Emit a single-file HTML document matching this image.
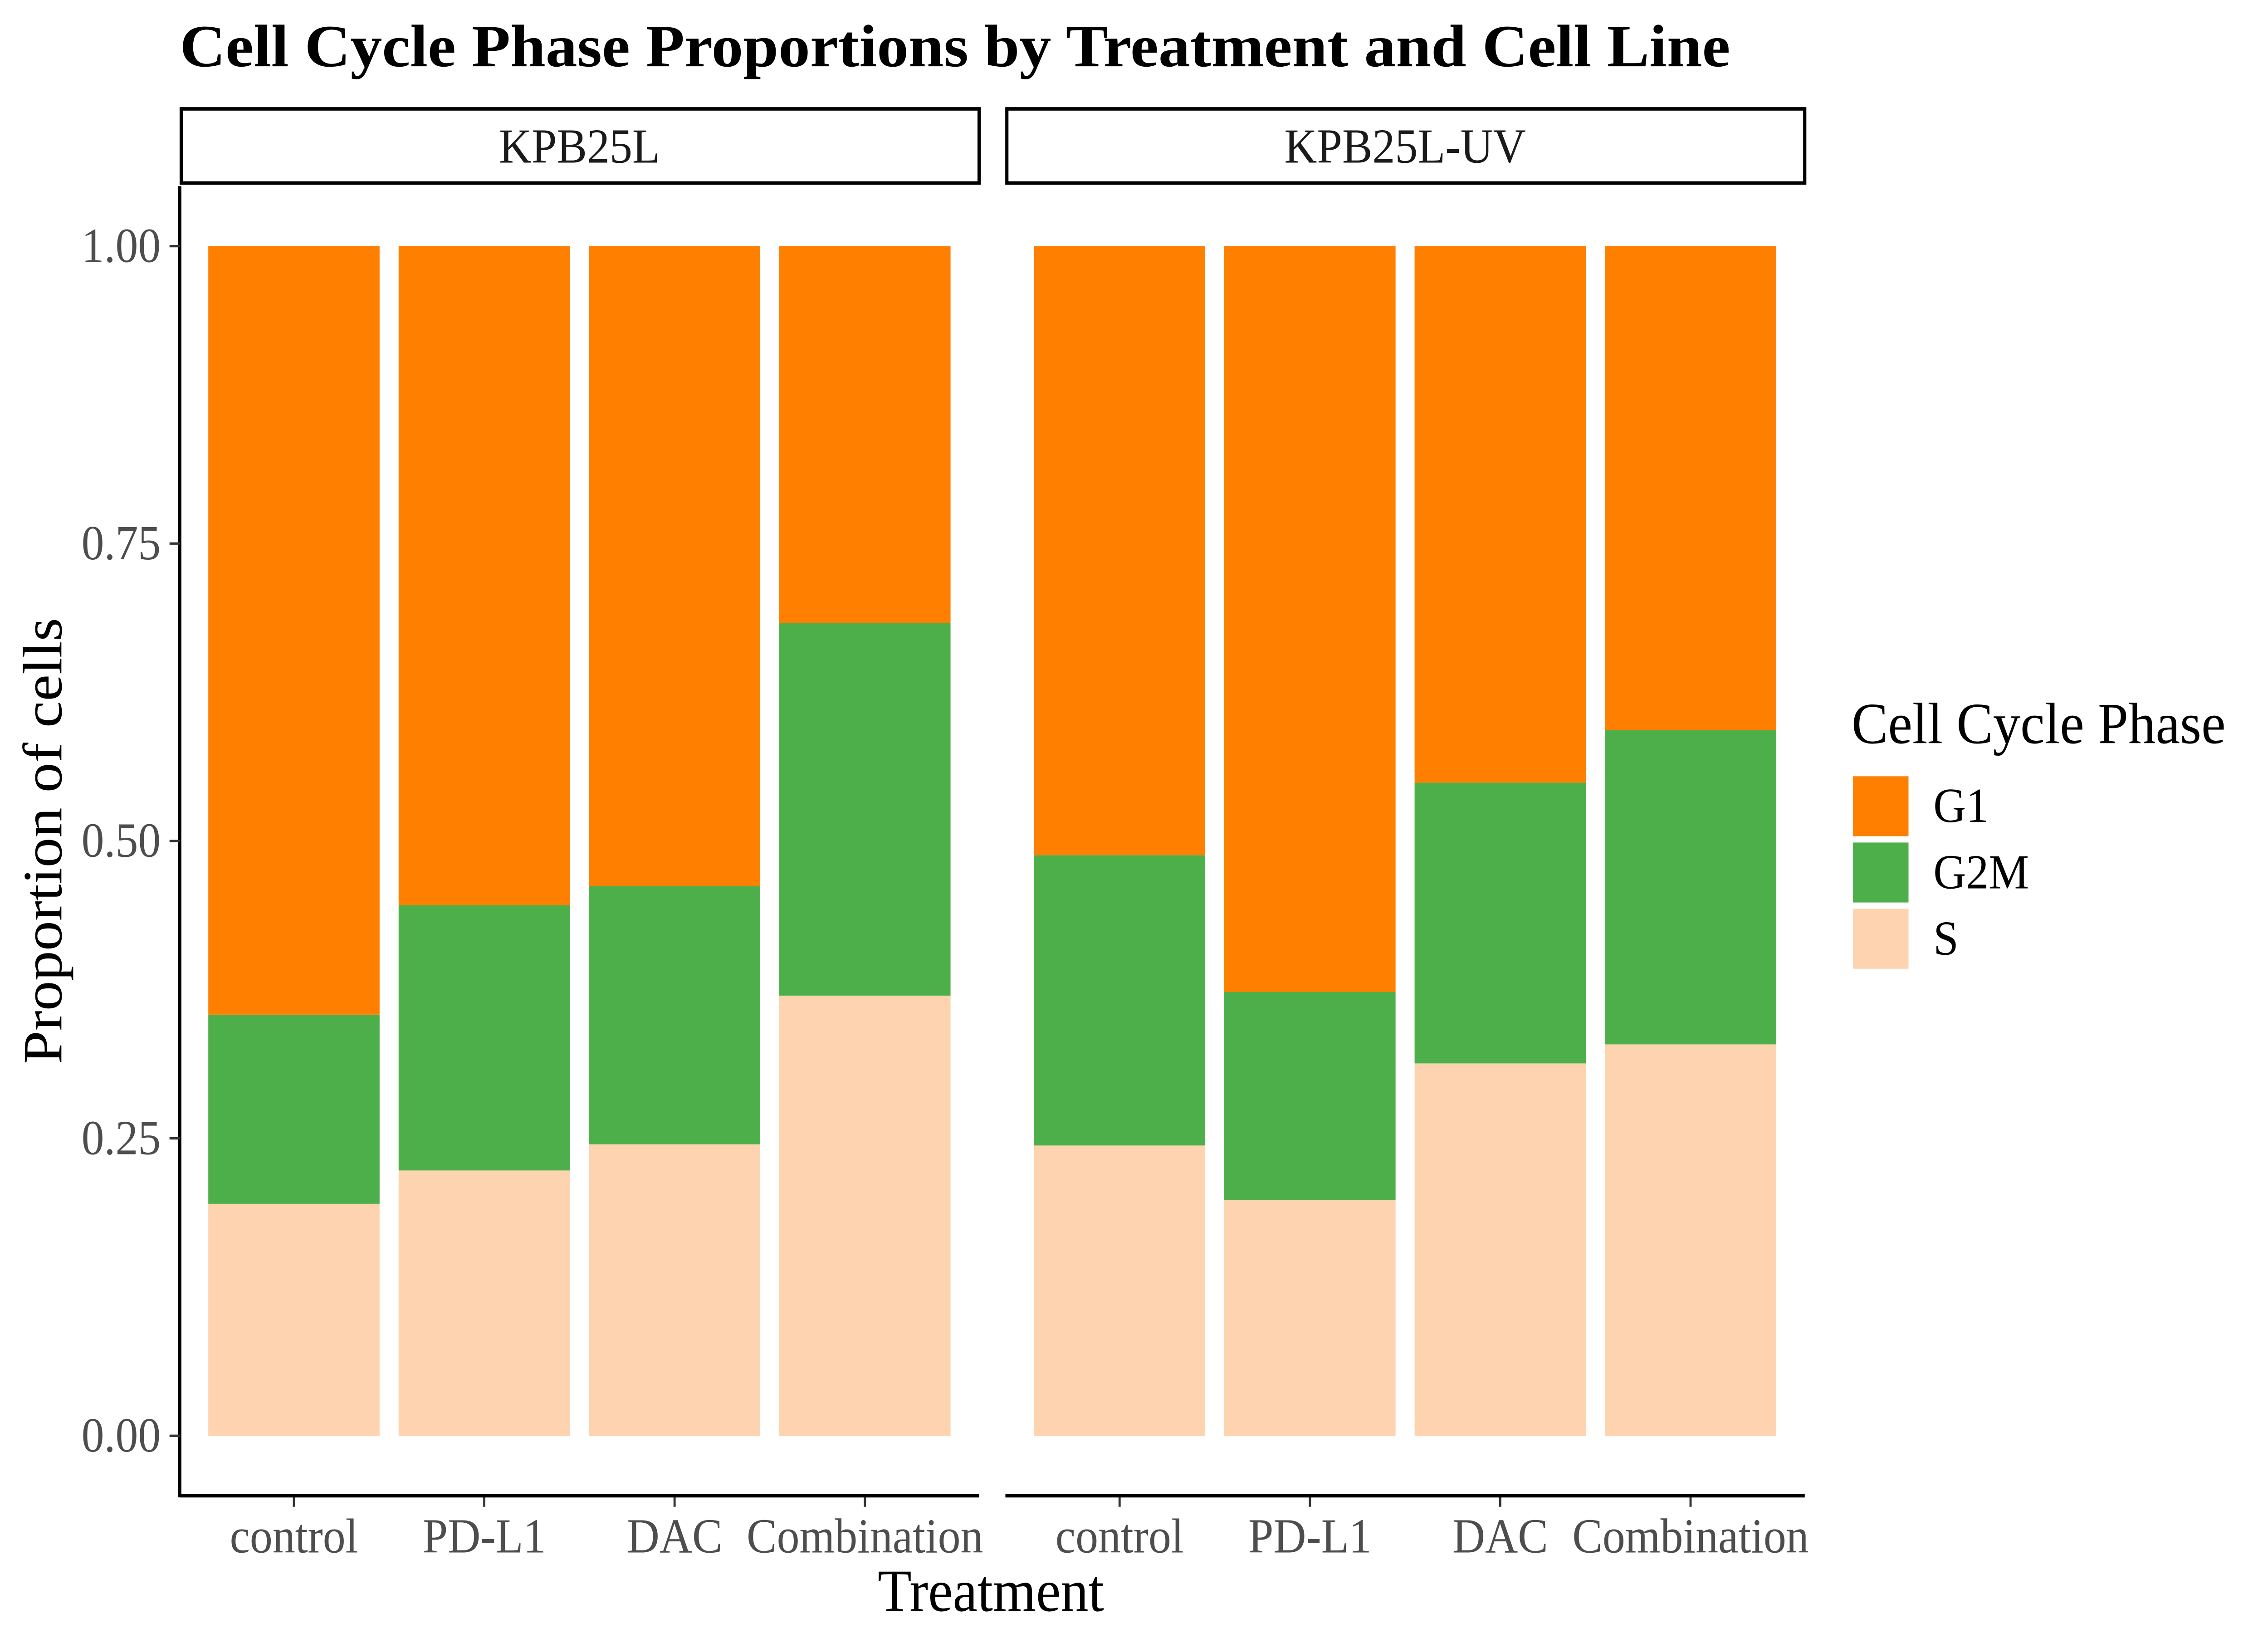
<!DOCTYPE html>
<html><head><meta charset="utf-8"><style>
html,body{margin:0;padding:0;background:#fff;overflow:hidden;width:100%;height:100%}
svg{display:block;width:100vw;height:100vh}
text{font-family:"Liberation Serif",serif}
</style></head><body>
<svg id="chart" viewBox="0 0 1552 1035" preserveAspectRatio="none" xmlns="http://www.w3.org/2000/svg">
<text x="123" y="42" font-size="38" font-weight="bold" fill="#000" textLength="1061" lengthAdjust="spacingAndGlyphs">Cell Cycle Phase Proportions by Treatment and Cell Line</text>
<g id="panels"></g>
<text x="678" y="1021" font-size="38" text-anchor="middle" fill="#000">Treatment</text>
<text transform="translate(42,533) rotate(-90)" font-size="38" text-anchor="middle" fill="#000">Proportion of cells</text>
<g>
<text x="1267" y="471" font-size="37" fill="#000" textLength="256" lengthAdjust="spacingAndGlyphs">Cell Cycle Phase</text>
<rect x="1268" y="492" width="38" height="38" fill="#FF7F00"/>
<rect x="1268" y="534" width="38" height="38" fill="#4DAF4A"/>
<rect x="1268" y="576" width="38" height="38" fill="#FED3AF"/>
<text x="1323" y="521" font-size="31" fill="#000">G1</text>
<text x="1323" y="563" font-size="31" fill="#000">G2M</text>
<text x="1323" y="605" font-size="31" fill="#000">S</text>
</g>
</svg>
<script>
const panelsNames = ["KPB25L", "KPB25L-UV"];
const categories = ["control", "PD-L1", "DAC", "Combination"];
const sValues = [[0.195, 0.223, 0.245, 0.370], [0.244, 0.198, 0.313, 0.329]];
const g2mValues = [[0.159, 0.223, 0.217, 0.313], [0.244, 0.175, 0.236, 0.264]];
const yTicks = [0, 0.25, 0.5, 0.75, 1];
const yTickLabels = ["0.00", "0.25", "0.50", "0.75", "1.00"];

const NS = "http://www.w3.org/2000/svg";
const root = document.getElementById("panels");
const panelX = [123, 688], panelW = 547, panelTop = 118, panelBottom = 948;
const yScale = v => 910 - v * 754;
function mk(tag, attrs, parent) {
  const e = document.createElementNS(NS, tag);
  for (const k in attrs) e.setAttribute(k, attrs[k]);
  parent.appendChild(e);
  return e;
}
panelsNames.forEach((pn, p) => {
  const x0 = panelX[p];
  const step = panelW / (categories.length - 1 + 1.2);
  const xc = i => x0 + (0.6 + i) * step;
  const bw = step * 0.9;
  const g = mk("g", {}, root);
  
  
  const strip = mk("rect", {x: x0 + 1, y: 69, width: panelW - 1, height: 47, fill: "#fff", stroke: "#000", "stroke-width": 2.2}, g);
  
  
  const st = mk("text", {x: x0 + panelW / 2, y: 103, "font-size": 31, "text-anchor": "middle", fill: "#1a1a1a"}, g);
  st.textContent = pn;
  
  
  categories.forEach((c, i) => {
    const s = sValues[p][i], m = g2mValues[p][i];
    const segs = [[0, s, "#FED3AF", "s"], [s, s + m, "#4DAF4A", "g2m"], [s + m, 1, "#FF7F00", "g1"]];
    segs.forEach(sg => {
      const r = mk("rect", {x: xc(i) - bw / 2, y: yScale(sg[1]), width: bw, height: yScale(sg[0]) - yScale(sg[1]), fill: sg[2]}, g);
      
      
    });
    mk("line", {x1: xc(i), x2: xc(i), y1: panelBottom, y2: panelBottom + 7, stroke: "#333", "stroke-width": 1.5}, g);
    const tl = mk("text", {x: xc(i), y: 984, "font-size": 31, "text-anchor": "middle", fill: "#4d4d4d"}, g);
    tl.textContent = c;
    
    
  });
  const ax = mk("line", {x1: x0, x2: x0 + panelW, y1: panelBottom, y2: panelBottom, stroke: "#000", "stroke-width": 2.2}, g);
  
  
  if (p === 0) {
    const ay = mk("line", {x1: x0, x2: x0, y1: panelTop, y2: panelBottom + 1, stroke: "#000", "stroke-width": 2.2}, g);
    
    
    yTicks.forEach((t, k) => {
      mk("line", {x1: x0 - 7, x2: x0, y1: yScale(t), y2: yScale(t), stroke: "#333", "stroke-width": 1.5}, g);
      const lt = mk("text", {x: x0 - 13, y: yScale(t) + 10, "font-size": 31, "text-anchor": "end", fill: "#4d4d4d"}, g);
      lt.textContent = yTickLabels[k];
      
      
    });
  }
});
</script>
</body></html>
